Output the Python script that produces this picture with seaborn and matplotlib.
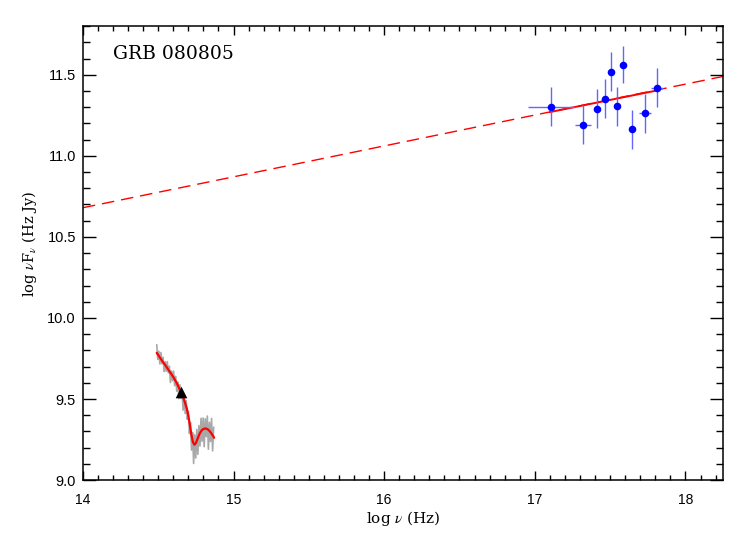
import numpy as np
import pandas as pd
import matplotlib
matplotlib.use('Agg')
import matplotlib.pyplot as plt
import seaborn as sns
from matplotlib.ticker import MultipleLocator

# Points X (Swift/XRT) : log nu, log nuFnu et barres d'erreur
xray_lognu = [17.11, 17.32, 17.41, 17.465, 17.505, 17.548, 17.588, 17.648, 17.733, 17.813]
xray_flux = [11.304, 11.193, 11.292, 11.351, 11.520, 11.306, 11.563, 11.164, 11.263, 11.419]
xray_xerr = [0.155, 0.055, 0.02, 0.02, 0.02, 0.02, 0.02, 0.02, 0.04, 0.04]
xray_yerr = [0.12, 0.12, 0.12, 0.12, 0.12, 0.12, 0.115, 0.12, 0.12, 0.12]

# Loi de puissance ajustée (pointillés sur tout l'axe, trait plein sur les données X)
pl_lognu = [14.0, 18.25]
pl_flux = [10.68, 11.49]
pl_fit_lognu = [17.10, 17.82]
pl_fit_flux = [11.27, 11.405]

# Spectre optique (gris)
opt_lognu = [14.490, 14.497, 14.504, 14.511, 14.518, 14.525, 14.532, 14.539, 14.546, 14.553,
             14.560, 14.567, 14.574, 14.581, 14.588, 14.595, 14.602, 14.609, 14.616, 14.623,
             14.630, 14.637, 14.644, 14.651, 14.658, 14.665, 14.672, 14.679, 14.686, 14.693,
             14.700, 14.707, 14.714, 14.721, 14.728, 14.735, 14.742, 14.749, 14.756, 14.763,
             14.770, 14.777, 14.784, 14.791, 14.798, 14.805, 14.812, 14.819, 14.826, 14.833,
             14.840, 14.847, 14.854, 14.861, 14.868]
opt_flux = [9.835, 9.745, 9.795, 9.716, 9.787, 9.717, 9.757, 9.669, 9.730, 9.671,
            9.731, 9.661, 9.702, 9.602, 9.673, 9.613, 9.672, 9.582, 9.640, 9.548,
            9.605, 9.502, 9.588, 9.503, 9.548, 9.431, 9.523, 9.410, 9.490, 9.375,
            9.425, 9.287, 9.355, 9.185, 9.293, 9.102, 9.279, 9.136, 9.312, 9.159,
            9.336, 9.210, 9.381, 9.239, 9.383, 9.206, 9.378, 9.268, 9.395, 9.190,
            9.356, 9.238, 9.380, 9.180, 9.326]

# Modèle lissé (rouge) sur le spectre optique
model_lognu = [14.49, 14.51, 14.53, 14.55, 14.57, 14.59, 14.61, 14.63, 14.65, 14.67,
               14.69, 14.70, 14.71, 14.72, 14.73, 14.74, 14.75, 14.76, 14.77, 14.78,
               14.79, 14.80, 14.81, 14.82, 14.83, 14.84, 14.85, 14.86, 14.871]
model_flux = [9.785, 9.757, 9.730, 9.705, 9.677, 9.650, 9.620, 9.585, 9.545, 9.500,
              9.440, 9.395, 9.340, 9.280, 9.235, 9.218, 9.228, 9.252, 9.276, 9.295,
              9.308, 9.315, 9.318, 9.317, 9.312, 9.303, 9.292, 9.278, 9.261]

# Point photométrique (triangle noir)
phot_lognu = [14.652]
phot_flux = [9.543]

sns.set_theme(style='ticks')
plt.rcParams['font.family'] = ['Liberation Sans', 'DejaVu Sans']
plt.rcParams['mathtext.fontset'] = 'stix'
serif = ['DejaVu Serif', 'Liberation Serif']

fig = plt.figure(figsize=(7.47, 5.34), dpi=100)
ax = fig.add_axes([0.111, 0.101, 0.857, 0.850])

ax.plot(pl_lognu, pl_flux, color='red', linestyle=(0, (9, 5)), linewidth=1.0)
ax.plot(pl_fit_lognu, pl_fit_flux, color='red', linewidth=1.4)

ax.errorbar(xray_lognu, xray_flux, xerr=xray_xerr, yerr=xray_yerr, fmt='none',
            ecolor='#6464ff', elinewidth=1.0, capsize=0)
sns.scatterplot(x=xray_lognu, y=xray_flux, color='blue', s=30, edgecolor='blue',
                linewidth=0, ax=ax, zorder=5)

opt = pd.DataFrame({'lognu': opt_lognu, 'flux': opt_flux})
sns.lineplot(data=opt, x='lognu', y='flux', color='#a8a8a8', linewidth=1.2, sort=False, ax=ax)
model = pd.DataFrame({'lognu': model_lognu, 'flux': model_flux})
sns.lineplot(data=model, x='lognu', y='flux', color='red', linewidth=1.6, sort=False, ax=ax)
sns.scatterplot(x=phot_lognu, y=phot_flux, marker='^', color='black', s=70,
                linewidth=0, ax=ax, zorder=6)

ax.set_xlim(14.0, 18.25)
ax.set_ylim(9.0, 11.8)
ax.xaxis.set_major_locator(MultipleLocator(1))
ax.xaxis.set_minor_locator(MultipleLocator(0.1))
ax.yaxis.set_major_locator(MultipleLocator(0.5))
ax.yaxis.set_minor_locator(MultipleLocator(0.1))
ax.yaxis.set_major_formatter(matplotlib.ticker.FormatStrFormatter('%.1f'))
ax.tick_params(axis='x', which='major', direction='in', length=6.5, width=1.0,
               top=True, bottom=True, labelsize=10, pad=9, colors='black')
ax.tick_params(axis='x', which='minor', direction='in', length=3.3, width=1.0,
               top=True, bottom=True, colors='black')
ax.tick_params(axis='y', which='major', direction='in', length=9.4, width=1.0,
               left=True, right=True, labelsize=10.5, pad=5, colors='black')
ax.tick_params(axis='y', which='minor', direction='in', length=5.0, width=1.0,
               left=True, right=True, colors='black')
for spine in ax.spines.values():
    spine.set_visible(True)
    spine.set_linewidth(1.1)
    spine.set_color('black')

ax.set_xlabel(r'log $\nu$ (Hz)', family=serif, fontsize=11, labelpad=2, color='black')
ax.set_ylabel(r'log $\nu$F$_{\nu}$ (Hz Jy)', family=serif, fontsize=10.5, color='black')
ax.yaxis.set_label_coords(-0.068, 0.52)
ax.text(14.2, 11.63, 'GRB 080805', family=serif, fontsize=13.5, va='center', ha='left',
        color='black')
ax.grid(False)

plt.savefig('out.png', dpi=100)
